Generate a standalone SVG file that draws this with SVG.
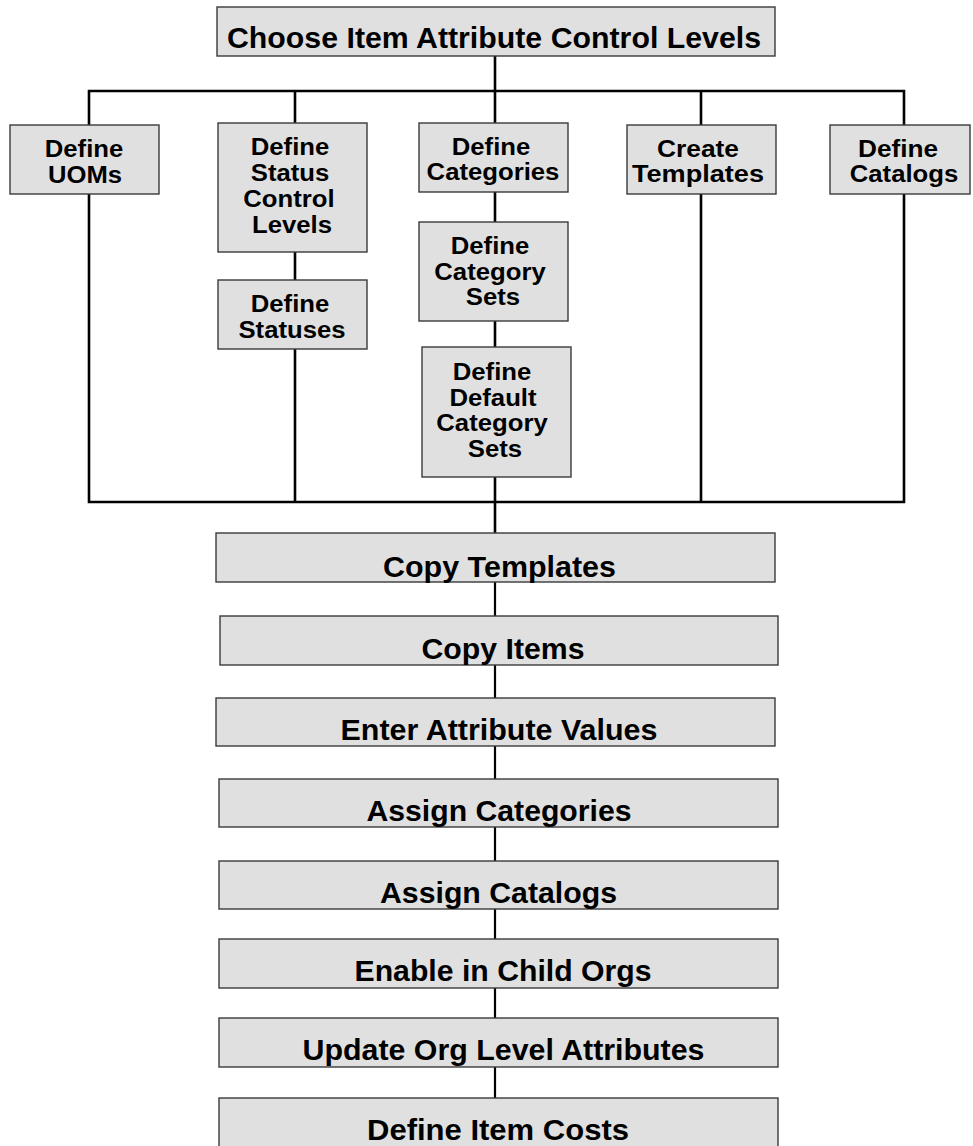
<svg xmlns="http://www.w3.org/2000/svg" width="973" height="1146" viewBox="0 0 973 1146">
<style>
.bg{fill:#ffffff}
.box{fill:#e0e0e0;stroke:#3a3a3a;stroke-width:1.4}
.c{fill:none;stroke:#000000;stroke-width:2.6}
.c2{fill:none;stroke:#000000;stroke-width:2.2}
.big{font-family:"Liberation Sans",Arial,sans-serif;font-weight:bold;font-size:29px;fill:#000;text-anchor:middle}
.sm{font-family:"Liberation Sans",Arial,sans-serif;font-weight:bold;font-size:23.5px;fill:#000;text-anchor:middle}
</style>
<rect class="bg" x="0" y="0" width="973" height="1146"/>
<g id="connectors">
<path class="c" d="M495,56 V91"/>
<path class="c" d="M89,502 V91 H904 V502 Z"/>
<path class="c" d="M295,91 V502"/>
<path class="c" d="M495,91 V533"/>
<path class="c" d="M701,91 V502"/>
<path class="c2" d="M495,582 V1098"/>
</g>
<g id="n-choose">
<rect class="box" x="217" y="7" width="558" height="49"/>
<text class="big" x="494" y="48" textLength="534" lengthAdjust="spacingAndGlyphs">Choose Item Attribute Control Levels</text>
</g>
<g id="n-uoms">
<rect class="box" x="10" y="125" width="149" height="69"/>
<text class="sm" x="84" y="157" textLength="78.5" lengthAdjust="spacingAndGlyphs">Define</text>
<text class="sm" x="85" y="183" textLength="74" lengthAdjust="spacingAndGlyphs">UOMs</text>
</g>
<g id="n-statusctl">
<rect class="box" x="218" y="123" width="149" height="129"/>
<text class="sm" x="290" y="154.5" textLength="78.5" lengthAdjust="spacingAndGlyphs">Define</text>
<text class="sm" x="290" y="180.5" textLength="78.5" lengthAdjust="spacingAndGlyphs">Status</text>
<text class="sm" x="289" y="206.5" textLength="91.4" lengthAdjust="spacingAndGlyphs">Control</text>
<text class="sm" x="292" y="232.5" textLength="80" lengthAdjust="spacingAndGlyphs">Levels</text>
</g>
<g id="n-statuses">
<rect class="box" x="218" y="280" width="149" height="69"/>
<text class="sm" x="290" y="311.5" textLength="78.5" lengthAdjust="spacingAndGlyphs">Define</text>
<text class="sm" x="292" y="337.5" textLength="107" lengthAdjust="spacingAndGlyphs">Statuses</text>
</g>
<g id="n-categories">
<rect class="box" x="419" y="123" width="149" height="69"/>
<text class="sm" x="491" y="154.5" textLength="78.5" lengthAdjust="spacingAndGlyphs">Define</text>
<text class="sm" x="493" y="180" textLength="132.8" lengthAdjust="spacingAndGlyphs">Categories</text>
</g>
<g id="n-catsets">
<rect class="box" x="419" y="222" width="149" height="99"/>
<text class="sm" x="490" y="253.5" textLength="78.5" lengthAdjust="spacingAndGlyphs">Define</text>
<text class="sm" x="490" y="279.5" textLength="111.4" lengthAdjust="spacingAndGlyphs">Category</text>
<text class="sm" x="493" y="304.5" textLength="54.3" lengthAdjust="spacingAndGlyphs">Sets</text>
</g>
<g id="n-defcatsets">
<rect class="box" x="422" y="347" width="149" height="130"/>
<text class="sm" x="492" y="380" textLength="78.5" lengthAdjust="spacingAndGlyphs">Define</text>
<text class="sm" x="493" y="405.5" textLength="87.1" lengthAdjust="spacingAndGlyphs">Default</text>
<text class="sm" x="492" y="431" textLength="111.4" lengthAdjust="spacingAndGlyphs">Category</text>
<text class="sm" x="495" y="456.5" textLength="54.3" lengthAdjust="spacingAndGlyphs">Sets</text>
</g>
<g id="n-templates">
<rect class="box" x="627" y="125" width="149" height="69"/>
<text class="sm" x="698" y="157" textLength="82" lengthAdjust="spacingAndGlyphs">Create</text>
<text class="sm" x="698" y="182" textLength="132" lengthAdjust="spacingAndGlyphs">Templates</text>
</g>
<g id="n-catalogs">
<rect class="box" x="830" y="125" width="140" height="69"/>
<text class="sm" x="898" y="157" textLength="80" lengthAdjust="spacingAndGlyphs">Define</text>
<text class="sm" x="904" y="182" textLength="108.5" lengthAdjust="spacingAndGlyphs">Catalogs</text>
</g>
<g id="n-copytemplates">
<rect class="box" x="216" y="533" width="559" height="49"/>
<text class="big" x="499.5" y="576.5" textLength="233" lengthAdjust="spacingAndGlyphs">Copy Templates</text>
</g>
<g id="n-copyitems">
<rect class="box" x="220" y="616" width="558" height="49"/>
<text class="big" x="503" y="658.5" textLength="163" lengthAdjust="spacingAndGlyphs">Copy Items</text>
</g>
<g id="n-enter">
<rect class="box" x="216" y="698" width="559" height="48"/>
<text class="big" x="499" y="740" textLength="317" lengthAdjust="spacingAndGlyphs">Enter Attribute Values</text>
</g>
<g id="n-assigncat">
<rect class="box" x="219" y="779" width="559" height="48"/>
<text class="big" x="499" y="821" textLength="265" lengthAdjust="spacingAndGlyphs">Assign Categories</text>
</g>
<g id="n-assigncatalogs">
<rect class="box" x="219" y="861" width="559" height="48"/>
<text class="big" x="498.5" y="903" textLength="237" lengthAdjust="spacingAndGlyphs">Assign Catalogs</text>
</g>
<g id="n-enable">
<rect class="box" x="219" y="939" width="559" height="49"/>
<text class="big" x="503" y="980.5" textLength="297" lengthAdjust="spacingAndGlyphs">Enable in Child Orgs</text>
</g>
<g id="n-update">
<rect class="box" x="219" y="1018" width="559" height="49"/>
<text class="big" x="503.5" y="1060" textLength="402" lengthAdjust="spacingAndGlyphs">Update Org Level Attributes</text>
</g>
<g id="n-costs">
<rect class="box" x="219" y="1098" width="559" height="50"/>
<text class="big" x="498" y="1139.5" textLength="262" lengthAdjust="spacingAndGlyphs">Define Item Costs</text>
</g>
</svg>
